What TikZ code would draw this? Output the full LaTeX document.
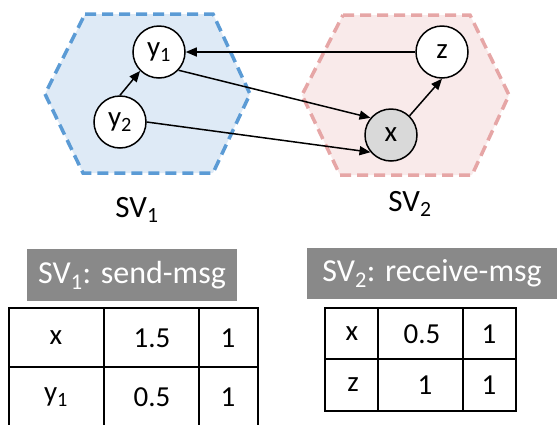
\documentclass[tikz,border=0pt]{standalone}
\usepackage{fontspec}
\setmainfont{Carlito}
\usetikzlibrary{arrows.meta}
\definecolor{hexbluefill}{RGB}{222,234,246}
\definecolor{hexblueline}{RGB}{91,155,213}
\definecolor{hexpinkfill}{RGB}{249,234,234}
\definecolor{hexpinkline}{RGB}{230,166,166}
\definecolor{nodegray}{RGB}{217,217,217}
\definecolor{titlegray}{RGB}{137,137,137}
\begin{document}
\begin{tikzpicture}[x=1pt,y=-1pt,
  hexdash/.style={line width=3.5pt,dash pattern=on 11pt off 6pt},
  var/.style={circle,draw=black,line width=1.5pt,fill=white,minimum size=52pt,inner sep=0pt,font=\fontsize{29}{32}\selectfont},
  edge/.style={line width=1.5pt,-{Triangle[length=11pt,width=9pt]}},
  lbl/.style={font=\fontsize{31}{34}\selectfont,inner sep=0pt},
  titlebox/.style={fill=titlegray,text=white,font=\fontsize{32}{36}\selectfont,inner sep=0pt},
  tbl/.style={line width=2.2pt},
  cell/.style={font=\fontsize{29}{32}\selectfont,inner sep=0pt}]
\useasboundingbox (0,0) rectangle (557,424);
% hexagons
\filldraw[hexdash,fill=hexbluefill,draw=hexblueline]
  (85,14) -- (213,14) -- (250,94) -- (213,173) -- (83,173) -- (45,94) -- cycle;
\filldraw[hexdash,fill=hexpinkfill,draw=hexpinkline]
  (343,15) -- (470,15) -- (509,95) -- (472,175) -- (340,175) -- (302,95) -- cycle;
% nodes
\node[var] (y1) at (159,52) {y\textsubscript{1}};
\node[var] (y2) at (120,122) {y\textsubscript{2}};
\node[var] (z) at (442,52) {z};
\node[var,fill=nodegray] (x) at (391,135) {x};
% edges
\draw[edge] (y2.90) -- (y1.225);
\draw[edge] (z.west) -- (y1.east);
\draw[edge] (y1.-43) -- (x.140);
\draw[edge] (y2.east) -- (x.220);
\draw[edge] (x.46) -- (z.south);
% labels
\node[lbl] (sv1) at (137,210) {SV\textsubscript{1}};
\node[lbl] (sv2) at (410,204) {SV\textsubscript{2}};
% titles
\node[titlebox,minimum width=210pt,minimum height=52pt] (t1) at (132,275) {SV\textsubscript{1}: send-msg};
\node[titlebox,minimum width=250pt,minimum height=51pt] (t2) at (432,273.5) {SV\textsubscript{2}: receive-msg};
% left table
\draw[tbl] (9,440) -- (9,308) -- (258,308) -- (258,440);
\draw[tbl] (104,308) -- (104,440);
\draw[tbl] (199,308) -- (199,440);
\draw[tbl] (9,367) -- (258,367);
\node[cell] (a11) at (56,338) {x};
\node[cell] (a12) at (152,338) {1.5};
\node[cell] (a13) at (228,338) {1};
\node[cell] (a21) at (56,397) {y\textsubscript{1}};
\node[cell] (a22) at (152,397) {0.5};
\node[cell] (a23) at (228,397) {1};
% right table
\draw[tbl] (325,308) rectangle (516,411);
\draw[tbl] (378,308) -- (378,411);
\draw[tbl] (463,308) -- (463,411);
\draw[tbl] (325,359) -- (516,359);
\node[cell] (b11) at (352,334) {x};
\node[cell] (b12) at (422,334) {0.5};
\node[cell] (b13) at (489,334) {1};
\node[cell] (b21) at (353,385) {z};
\node[cell] (b22) at (425,385) {1};
\node[cell] (b23) at (489,385) {1};
\end{tikzpicture}
\end{document}
